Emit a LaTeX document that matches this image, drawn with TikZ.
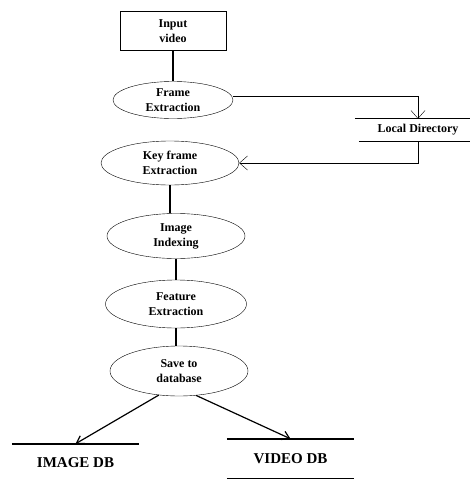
\documentclass[tikz,border=0pt]{standalone}
\usepackage{fontspec}
\setmainfont{Liberation Serif}
\usepackage{xcolor}
\usepackage{tikz}
\usetikzlibrary{shapes.geometric, positioning, arrows.meta}

\begin{document}
\begin{tikzpicture}[x=1pt, y=-1pt, on grid, node distance=66pt,
        font=\bfseries\fontsize{12}{15}\selectfont,
        proc/.style={ellipse, draw, align=center, inner sep=0pt},
        store/.style={align=center, inner sep=0pt, minimum width=127pt, font=\bfseries\fontsize{15}{18}\selectfont},
        link/.style={line width=1.2pt},
        >={Straight Barb[length=8pt, width=14pt]}]
        \useasboundingbox (0,0) rectangle (470,479);

        \node[draw, align=center, minimum width=106pt, minimum height=39pt] (input) at (173,31) {Input\\video};
        \node[proc, minimum width=120pt, minimum height=37pt] (frame) [below=69pt of input] {Frame\\Extraction};
        \node[proc, minimum width=138pt, minimum height=44pt] (key) [below=63pt of frame, xshift=-3pt] {Key frame\\Extraction};
        \node[proc, minimum width=138pt, minimum height=45pt] (index) [below=73pt of key, xshift=6pt] {Image\\Indexing};
        \node[proc, minimum width=141pt, minimum height=48pt] (feature) [below=68pt of index] {Feature\\Extraction};
        \node[proc, minimum width=138pt, minimum height=50pt] (save) [below=67pt of feature, xshift=3pt] {Save to\\database};

        \node[minimum width=104pt, minimum height=22pt, inner sep=0pt] (local) at (418,130) {Local Directory};
        \node[store, minimum height=38pt] (imagedb) at (75.5,463) {IMAGE DB};
        \node[store, minimum height=39pt] (videodb) at (290.5,458.5) {VIDEO DB};

        % stores
        \draw[line width=1pt] ([xshift=-11pt]local.north west) -- (local.north east);
        \draw[line width=1pt] ([xshift=-7pt]local.south west) -- (local.south east);
        \draw[line width=1.4pt] (imagedb.north west) -- (imagedb.north east);
        \draw[line width=1.4pt] (videodb.north west) -- (videodb.north east);
        \draw[line width=1.4pt] (videodb.south west) -- (videodb.south east);

        \draw[link] (input) -- (frame);
        \draw[link] (key.south) -- (key.south |- index.north);
        \draw[link] (index) -- (feature);
        \draw[link] (feature.south) -- (feature.south |- save.north);

        \draw[->] ([yshift=4pt]frame.east) -| (local.north);
        \draw[->] (local.south) |- (key.east);

        \path[link, ->, >={Straight Barb[length=7pt, width=9pt]}]
        (save.-130) edge (imagedb.north)
        (save.-55) edge (videodb.north);

    \end{tikzpicture}
\end{document}
